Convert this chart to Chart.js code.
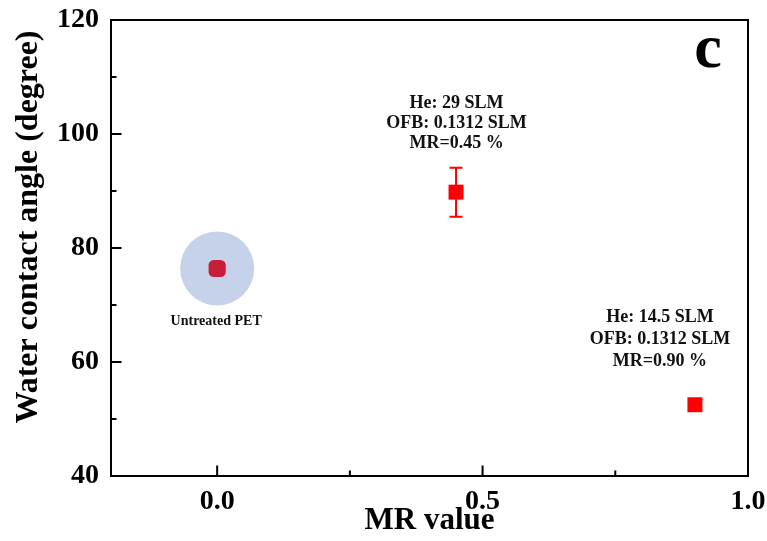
<!DOCTYPE html>
<html><head><meta charset="utf-8">
<script src="https://cdn.jsdelivr.net/npm/chart.js@4"></script>
<style>html,body{margin:0;padding:0;background:#fff}#wrap{width:767px;height:541px}</style>
</head><body><div id="wrap"><canvas id="c" width="767" height="541"></canvas></div>
<script>
// ---- data ----
const xMajorTicks = [0, 0.5, 1.0];
const xMinorTicks = [0.25, 0.75];
const yMajorTicks = [40, 60, 80, 100, 120];
const yMinorTicks = [50, 70, 90, 110];
const untreatedX = [0];
const untreatedY = [76.4];
const treatedX = [0.45, 0.90];
const treatedY = [89.8, 52.5];
const treatedErr = [4.3, 0];
const treatedLabels = [
  ["He: 29 SLM", "OFB: 0.1312 SLM", "MR=0.45 %"],
  ["He: 14.5 SLM", "OFB: 0.1312 SLM", "MR=0.90 %"]
];
const untreatedLabel = "Untreated PET";
const xTitle = "MR value";
const yTitle = "Water contact angle (degree)";
const panelLabel = "c";

const SERIF = '"Liberation Serif", "Times New Roman", serif';

const toPts = (xs, ys) => xs.map((x, i) => ({x: x, y: ys[i]}));

const decor = {
  id: 'decor',
  beforeDatasetsDraw(chart) {
    const ctx = chart.ctx, xs = chart.scales.x, ys = chart.scales.y;
    ctx.save();
    // halo behind untreated point
    untreatedX.forEach((v, i) => {
      ctx.beginPath();
      ctx.fillStyle = '#c6d1ea';
      ctx.arc(xs.getPixelForValue(v), ys.getPixelForValue(untreatedY[i]), 37, 0, Math.PI * 2);
      ctx.fill();
    });
    // error bars
    ctx.strokeStyle = '#ff0000';
    ctx.lineWidth = 2;
    treatedX.forEach((v, i) => {
      const e = treatedErr[i];
      if (!e) return;
      const px = xs.getPixelForValue(v);
      const top = ys.getPixelForValue(treatedY[i] + e);
      const bot = ys.getPixelForValue(treatedY[i] - e);
      ctx.beginPath();
      ctx.moveTo(px, top); ctx.lineTo(px, bot);
      ctx.moveTo(px - 6.5, top); ctx.lineTo(px + 6.5, top);
      ctx.moveTo(px - 6.5, bot); ctx.lineTo(px + 6.5, bot);
      ctx.stroke();
    });
    ctx.restore();
  },
  afterDraw(chart) {
    const ctx = chart.ctx, xs = chart.scales.x, ys = chart.scales.y, a = chart.chartArea;
    ctx.save();
    // frame
    ctx.strokeStyle = '#000';
    ctx.lineWidth = 2;
    ctx.strokeRect(a.left, a.top, a.right - a.left, a.bottom - a.top);
    // inward ticks
    ctx.beginPath();
    xMajorTicks.forEach(v => { const p = xs.getPixelForValue(v); ctx.moveTo(p, a.bottom); ctx.lineTo(p, a.bottom - 10.5); });
    xMinorTicks.forEach(v => { const p = xs.getPixelForValue(v); ctx.moveTo(p, a.bottom); ctx.lineTo(p, a.bottom - 5.5); });
    yMajorTicks.forEach(v => { const p = ys.getPixelForValue(v); ctx.moveTo(a.left, p); ctx.lineTo(a.left + 10.5, p); });
    yMinorTicks.forEach(v => { const p = ys.getPixelForValue(v); ctx.moveTo(a.left, p); ctx.lineTo(a.left + 5.5, p); });
    ctx.stroke();
    // annotations
    ctx.fillStyle = '#111';
    ctx.textAlign = 'center';
    ctx.textBaseline = 'middle';
    ctx.font = 'bold 18px ' + SERIF;
    const offs = [{dx: 0.5, dy: -89, lh: 20}, {dx: -35, dy: -87, lh: 21.7}];
    treatedLabels.forEach((lines, i) => {
      const px = xs.getPixelForValue(treatedX[i]) + offs[i].dx;
      const py = ys.getPixelForValue(treatedY[i]) + offs[i].dy;
      lines.forEach((t, j) => ctx.fillText(t, px, py + j * offs[i].lh));
    });
    ctx.font = 'bold 14px ' + SERIF;
    ctx.fillText(untreatedLabel, xs.getPixelForValue(untreatedX[0]) - 1, ys.getPixelForValue(untreatedY[0]) + 53);
    // panel label
    ctx.fillStyle = '#000';
    ctx.textBaseline = 'alphabetic';
    ctx.font = 'bold 62px ' + SERIF;
    ctx.fillText(panelLabel, a.right - 40, a.top + 47);
    // y title
    ctx.font = 'bold 32px ' + SERIF;
    ctx.translate(37, 227);
    ctx.rotate(-Math.PI / 2);
    ctx.fillText(yTitle, 0, 0);
    ctx.restore();
  }
};

new Chart(document.getElementById('c'), {
  type: 'scatter',
  data: {
    datasets: [
      {
        label: 'Untreated PET',
        data: toPts(untreatedX, untreatedY),
        backgroundColor: '#c81e3a',
        borderWidth: 0,
        pointStyle: 'rectRounded',
        pointRadius: 10
      },
      {
        label: 'Treated',
        data: toPts(treatedX, treatedY),
        backgroundColor: '#ff0000',
        borderWidth: 0,
        pointStyle: 'rect',
        pointRadius: 10.6
      }
    ]
  },
  options: {
    responsive: false,
    animation: false,
    devicePixelRatio: 1,
    events: [],
    layout: {padding: {top: 20, right: 19, left: 0, bottom: 0}},
    plugins: {legend: {display: false}, tooltip: {enabled: false}},
    scales: {
      x: {
        type: 'linear', min: -0.2, max: 1.0,
        afterBuildTicks: s => { s.ticks = xMajorTicks.map(v => ({value: v})); },
        afterFit: s => { s.height = 65; s.paddingLeft = 0; s.paddingRight = 0; },
        grid: {display: false, drawTicks: false},
        border: {display: false},
        ticks: {
          color: '#000', padding: 9, maxRotation: 0, autoSkip: false,
          font: {family: SERIF, size: 28, weight: 'bold'},
          callback: v => Number(v).toFixed(1)
        },
        title: {
          display: true, text: xTitle, color: '#000',
          font: {family: SERIF, size: 31, weight: 'bold'},
          padding: {top: 0, bottom: 1}
        }
      },
      y: {
        type: 'linear', min: 40, max: 120,
        afterBuildTicks: s => { s.ticks = yMajorTicks.map(v => ({value: v})); },
        afterFit: s => { s.width = 111; s.paddingTop = 0; s.paddingBottom = 0; },
        grid: {display: false, drawTicks: false},
        border: {display: false},
        ticks: {
          color: '#000', padding: 12, autoSkip: false,
          font: {family: SERIF, size: 28, weight: 'bold'},
          callback: v => String(v)
        }
      }
    }
  },
  plugins: [decor]
});
</script>
</body></html>
